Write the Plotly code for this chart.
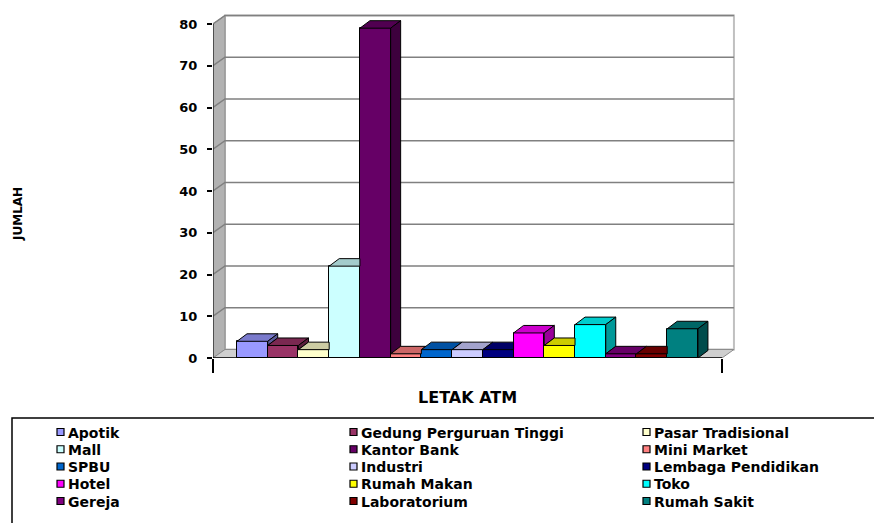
import plotly.graph_objects as go

# ---------------- data ----------------
categories = ["Apotik", "Gedung Perguruan Tinggi", "Pasar Tradisional", "Mall", "Kantor Bank",
              "Mini Market", "SPBU", "Industri", "Lembaga Pendidikan", "Hotel",
              "Rumah Makan", "Toko", "Gereja", "Laboratorium", "Rumah Sakit"]
values = [4, 3, 2, 22, 79, 1, 2, 2, 2, 6, 3, 8, 1, 1, 7]
colors = ["#9999FF", "#993366", "#FFFFCC", "#CCFFFF", "#660066", "#FF8080", "#0066CC",
          "#CCCCFF", "#000080", "#FF00FF", "#FFFF00", "#00FFFF", "#800080", "#800000", "#008080"]
y_ticks = [0, 10, 20, 30, 40, 50, 60, 70, 80]
x_title = "LETAK ATM"
y_title = "JUMLAH"

# ---------------- geometry / style ----------------
W, H = 882, 523
OFF = 8                         # page body margin offset
AX_L, AX_B = 213 - OFF, 358 - OFF   # axis corner in figure pixels
ML, MT, MR = AX_L, 2, 0
MB = H - AX_B
slot_px = 30.73
unit_px = 4.175
plot_w = W - ML - MR
plot_h = H - MT - MB
gap = 0.781
n = len(values)
x0 = -gap
x1 = n + gap
x_range = [x0, x0 + plot_w / slot_px]
y_range = [0, plot_h / unit_px]
wdx, wdy = 12 / slot_px, 8.5 / unit_px      # wall depth offset
bdx, bdy = 10 / slot_px, 7.5 / unit_px      # bar depth offset
ymax = y_ticks[-1]
FONT_TXT = "DejaVu Sans, Verdana, sans-serif"


def px_x(sx):   # screen x -> paper x
    return (sx - OFF - ML) / plot_w


def px_y(sy):   # screen y -> paper y
    return (AX_B - (sy - OFF)) / plot_h


def shade(hexc, f):
    hexc = hexc.lstrip("#")
    r, g, b = (int(hexc[k:k + 2], 16) for k in (0, 2, 4))
    return "rgb(%d,%d,%d)" % (r * f, g * f, b * f)


fig = go.Figure()

# front faces (real bars)
for i, (cat, v, c) in enumerate(zip(categories, values, colors)):
    fig.add_trace(go.Bar(
        x=[i + 0.5], y=[v], width=[1.0], name=cat,
        marker=dict(color=c, line=dict(color="black", width=1)),
        hovertemplate=cat + ": %{y}<extra></extra>", showlegend=False,
    ))

# 3D top and side faces (visible parts only), derived from the values
for i, (v, c) in enumerate(zip(values, colors)):
    vn = values[i + 1] if i + 1 < n else 0
    if vn <= v:
        tx = [i, i + 1, i + 1 + bdx, i + bdx, i]
        ty = [v, v, v + bdy, v + bdy, v]
    else:
        cc = min(vn, v + bdy)
        xs = i + 1 + bdx * (v + bdy - cc) / bdy
        tx = [i, i + 1, i + 1, xs, i + bdx, i]
        ty = [v, v, cc, v + bdy, v + bdy, v]
    fig.add_trace(go.Scatter(x=tx, y=ty, fill="toself", fillcolor=shade(c, 0.8),
                             mode="lines", line=dict(color="black", width=1),
                             showlegend=False, hoverinfo="skip"))
    if v > vn:
        sx = [i + 1, i + 1, i + 1 + bdx, i + 1 + bdx, i + 1]
        sy = [vn, v, v + bdy, vn + bdy, vn]
        fig.add_trace(go.Scatter(x=sx, y=sy, fill="toself", fillcolor=shade(c, 0.6),
                                 mode="lines", line=dict(color="black", width=1),
                                 showlegend=False, hoverinfo="skip"))

# walls, floor, gridlines (below traces)
shapes = []
shapes.append(dict(type="rect", layer="below", xref="x", yref="y",
                   x0=x0 + wdx, x1=x1 + wdx, y0=wdy, y1=ymax + wdy,
                   fillcolor="white", line=dict(color="#c0c0c0", width=2)))
shapes.append(dict(type="path", layer="below", xref="x", yref="y",
                   path="M %f,%f L %f,%f L %f,%f L %f,%f Z" % (x0, 0, x0 + wdx, wdy, x0 + wdx, ymax + wdy, x0, ymax),
                   fillcolor="#b2b2b2", line=dict(color="#8c8c8c", width=1)))
shapes.append(dict(type="path", layer="below", xref="x", yref="y",
                   path="M %f,%f L %f,%f L %f,%f L %f,%f Z" % (x0, 0, x1, 0, x1 + wdx, wdy, x0 + wdx, wdy),
                   fillcolor="#cfcfcf", line=dict(color="#8c8c8c", width=1)))
for t in y_ticks[1:]:
    shapes.append(dict(type="path", layer="below", xref="x", yref="y",
                       path="M %f,%f L %f,%f L %f,%f" % (x0, t, x0 + wdx, t + wdy, x1 + wdx, t + wdy),
                       line=dict(color="#808080", width=1.5)))
# axis lines
shapes.append(dict(type="line", layer="above", xref="x", yref="y",
                   x0=x0, x1=x0, y0=0, y1=ymax, line=dict(color="black", width=1)))
shapes.append(dict(type="line", layer="above", xref="x", yref="y",
                   x0=x0, x1=x1, y0=0, y1=0, line=dict(color="black", width=1.5)))

# legend box (custom, 3 columns)
shapes.append(dict(type="rect", layer="above", xref="paper", yref="paper",
                   x0=px_x(12), x1=px_x(900), y0=px_y(418), y1=px_y(540),
                   fillcolor="rgba(0,0,0,0)", line=dict(color="black", width=1.5)))
annotations = []
col_left = [57, 350, 643]
row_top = 432
row_step = 17.25
for k, (cat, c) in enumerate(zip(categories, colors)):
    r, cidx = divmod(k, 3)
    mx = col_left[cidx]
    my = row_top + r * row_step
    shapes.append(dict(type="rect", layer="above", xref="paper", yref="paper",
                       x0=px_x(mx), x1=px_x(mx + 7), y0=px_y(my - 3.5), y1=px_y(my + 3.5),
                       fillcolor=c, line=dict(color="black", width=1.2)))
    annotations.append(dict(text=cat, xref="paper", yref="paper", x=px_x(mx + 8.5), y=px_y(my + 0.5),
                            showarrow=False, xanchor="left", yanchor="middle",
                            font=dict(family=FONT_TXT, size=14, color="black", weight="bold")))

annotations.append(dict(text=x_title, xref="x", yref="paper", x=(x0 + x1) / 2, y=px_y(397),
                        showarrow=False, xanchor="center", yanchor="middle",
                        font=dict(family=FONT_TXT, size=16, color="black", weight="bold")))
annotations.append(dict(text=y_title, xref="paper", yref="paper", x=px_x(18), y=px_y(214),
                        showarrow=False, textangle=-90, xanchor="center", yanchor="middle",
                        font=dict(family=FONT_TXT, size=12, color="black", weight="bold")))

fig.update_layout(
    width=W, height=H,
    margin=dict(l=ML, r=MR, t=MT, b=MB, autoexpand=False),
    paper_bgcolor="white", plot_bgcolor="white",
    barmode="overlay", bargap=0,
    shapes=shapes, annotations=annotations,
    font=dict(family=FONT_TXT, size=12, color="black", weight="bold"),
    xaxis=dict(range=x_range, showgrid=False, zeroline=False, showline=False,
               showticklabels=False, tickmode="array", tickvals=[x0, x1],
               ticks="outside", ticklen=14, tickwidth=2, tickcolor="black", fixedrange=True),
    yaxis=dict(range=y_range, showgrid=False, zeroline=False, showline=False,
               tickmode="array", tickvals=y_ticks, ticks="outside", ticklen=5,
               tickwidth=1.5, tickcolor="black", ticklabelstandoff=7,
               tickfont=dict(family=FONT_TXT, size=13, color="black", weight="bold"),
               fixedrange=True),
    showlegend=False,
)

fig.write_html("out.html")
